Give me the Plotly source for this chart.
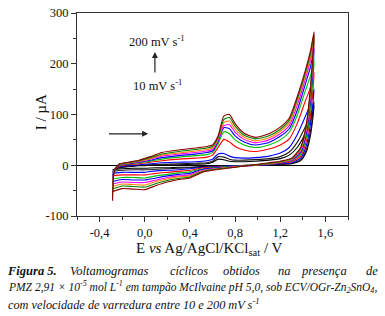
import plotly.graph_objects as go

# Potential grids (V) for the forward (anodic) and reverse (cathodic) sweeps
E_anodic = [-0.285, -0.27, -0.23, -0.15, -0.05, 0.05, 0.15, 0.3, 0.45, 0.55, 0.6, 0.65,
            0.7, 0.75, 0.8, 0.88, 0.98, 1.1, 1.2, 1.28, 1.35, 1.42, 1.47, 1.5]
E_cathodic = [1.47, 1.43, 1.38, 1.3, 1.2, 1.1, 1.0, 0.9, 0.8, 0.7, 0.6, 0.52, 0.47,
              0.4, 0.3, 0.2, 0.1, 0.0, -0.1, -0.2, -0.285]

scan_rates = ["10", "20", "30", "50", "75", "100", "125", "150", "175", "200"]
colors = ["#000000", "#1a1a1a", "#0000ff", "#ff0000", "#00c000",
          "#0000ff", "#ff00ff", "#ff8000", "#008000", "#8b0000"]

# Currents (µA) for each scan rate
I_anodic = [
    [-10, -8, -5, -3, -1, 0, 1, 1, 2, 3, 6, 12, 11, 8, 7, 7, 8, 10, 13, 20, 35, 62, 90, 117],
    [-14, -9, -4, -2, 0, 1, 2, 3, 4, 5, 8, 17, 16, 12, 10, 10, 11, 13, 17, 26, 45, 75, 100, 125],
    [-20, -9, -3, -1, 1, 3, 5, 6, 7, 9, 12, 22, 23, 18, 15, 14, 15, 18, 24, 35, 60, 95, 122, 150],
    [-28, -10, -2, 1, 3, 6, 9, 12, 14, 16, 20, 35, 51, 46, 37, 30, 27, 32, 40, 52, 82, 125, 155, 183],
    [-35, -10, -1, 2, 5, 8, 12, 16, 19, 21, 25, 42, 66, 62, 50, 40, 35, 40, 50, 65, 98, 145, 178, 208],
    [-42, -10, 0, 3, 6, 10, 15, 19, 22, 25, 28, 47, 74, 72, 58, 46, 40, 45, 57, 72, 108, 158, 196, 230],
    [-48, -11, 0, 4, 7, 12, 18, 22, 25, 28, 31, 50, 78, 80, 65, 51, 44, 50, 62, 78, 118, 168, 208, 243],
    [-55, -11, 1, 4, 8, 13, 20, 24, 28, 31, 34, 52, 84, 87, 71, 55, 48, 54, 67, 84, 125, 175, 215, 250],
    [-62, -12, 1, 5, 9, 15, 22, 27, 31, 34, 37, 55, 90, 94, 77, 59, 52, 58, 71, 89, 130, 180, 222, 257],
    [-70, -12, 2, 6, 10, 17, 25, 30, 34, 37, 40, 58, 97, 100, 82, 63, 55, 62, 75, 93, 135, 185, 228, 263],
]
I_cathodic = [
    [62, 26, 9, 3, 2, 1, 0, 0, -1, -1, -2, -2, -3, -4, -4, -5, -5, -6, -6, -7, -9],
    [70, 30, 11, 4, 2, 1, 0, 0, -1, -1, -2, -3, -4, -5, -6, -7, -8, -9, -9, -10, -12],
    [85, 38, 14, 5, 3, 1, 0, -1, -1, -2, -3, -4, -5, -7, -9, -10, -11, -14, -14, -14, -16],
    [105, 47, 18, 7, 4, 2, 0, -1, -2, -3, -4, -5, -7, -10, -12, -14, -16, -19, -19, -19, -21],
    [120, 55, 22, 9, 5, 2, 1, -1, -2, -3, -5, -7, -9, -13, -15, -18, -21, -25, -24, -24, -27],
    [135, 62, 25, 10, 5, 3, 1, -1, -2, -4, -6, -8, -11, -16, -18, -21, -25, -29, -29, -28, -32],
    [145, 68, 28, 11, 6, 3, 1, -1, -3, -5, -7, -10, -13, -19, -21, -24, -29, -34, -34, -33, -37],
    [150, 72, 30, 12, 6, 3, 1, -1, -3, -5, -8, -11, -15, -21, -23, -27, -32, -39, -38, -37, -42],
    [155, 76, 33, 13, 7, 4, 1, -1, -4, -6, -9, -12, -16, -23, -26, -30, -36, -43, -42, -41, -47],
    [160, 80, 35, 14, 8, 5, 2, -1, -4, -7, -10, -13, -18, -25, -28, -33, -40, -48, -47, -46, -52],
]

x_tickvals = [-0.4, 0.0, 0.4, 0.8, 1.2, 1.6]
x_ticktext = ["-0,4", "0,0", "0,4", "0,8", "1,2", "1,6"]
y_tickvals = [-100, 0, 100, 200, 300]
y_ticktext = ["-100", "0", "100", "200", "300"]

caption_line1_words = ["<b>Figura 5.</b>", "Voltamogramas", "cíclicos", "obtidos", "na", "presença", "de"]
caption_line2 = "PMZ 2,91 × 10<sup>-5</sup> mol L<sup>-1</sup> em tampão McIlvaine pH 5,0, sob ECV/OGr-Zn<sub>2</sub>SnO<sub>4</sub>,"
caption_line3 = "com velocidade de varredura entre 10 e 200 mV s<sup>-1</sup>"

FONT = "Liberation Serif"
INK = "#111111"

fig = go.Figure()
for k in range(len(scan_rates)):
    fig.add_trace(go.Scatter(
        x=E_anodic + E_cathodic,
        y=I_anodic[k] + I_cathodic[k],
        mode="lines",
        line=dict(color=colors[k], width=1.1, shape="spline", smoothing=0.6),
        name=scan_rates[k] + " mV/s",
        showlegend=False,
        hoverinfo="skip",
    ))

axis_common = dict(
    showline=True, linecolor="#333333", linewidth=1, mirror=True,
    ticks="outside", ticklen=5, tickwidth=1, tickcolor="#333333",
    showgrid=False, automargin=False,
    tickfont=dict(family=FONT, size=12.5, color=INK),
)

fig.update_xaxes(
    range=[-0.6, 1.8], tickvals=x_tickvals, ticktext=x_ticktext,
    zeroline=False,
    minor=dict(ticks="outside", ticklen=3, dtick=0.2, tick0=0, tickcolor="#333333"),
    **axis_common,
)
fig.update_yaxes(
    range=[-100, 300], tickvals=y_tickvals, ticktext=y_ticktext,
    zeroline=True, zerolinecolor="#000000", zerolinewidth=1,
    minor=dict(ticks="outside", ticklen=3, dtick=50, tick0=0, tickcolor="#333333"),
    **axis_common,
)

# Axis titles
fig.add_annotation(xref="paper", yref="paper", x=0.49, y=-0.163, xanchor="center", yanchor="middle",
                   text="E <i>vs</i> Ag/AgCl/KCl<sub>sat</sub> / V", showarrow=False,
                   font=dict(family=FONT, size=15, color=INK))
fig.add_annotation(xref="paper", yref="paper", x=-0.132, y=0.512, xanchor="center", yanchor="middle",
                   text="I / µA", textangle=-90, showarrow=False,
                   font=dict(family=FONT, size=15, color=INK))

ann_font = dict(family=FONT, size=12.5, color=INK)
fig.add_annotation(x=0.105, y=245, text="200 mV s<sup>-1</sup>", showarrow=False, font=ann_font)
fig.add_annotation(x=0.115, y=158, text="10 mV s<sup>-1</sup>", showarrow=False, font=ann_font)
fig.add_annotation(x=0.09, y=223, ax=0.09, ay=180, xref="x", yref="y", axref="x", ayref="y",
                   text="", showarrow=True, arrowhead=2, arrowsize=1, arrowwidth=1.2, arrowcolor="#222222")
fig.add_annotation(x=0.03, y=62, ax=-0.33, ay=62, xref="x", yref="y", axref="x", ayref="y",
                   text="", showarrow=True, arrowhead=2, arrowsize=1, arrowwidth=1.2, arrowcolor="#222222")

# Caption (justified first line: words placed individually)
line1_x = [-0.2657, -0.0332, 0.3358, 0.5314, 0.7343, 0.8192, 1.118]
line1_anchor = ["left", "left", "left", "left", "left", "left", "right"]
cap1_font = dict(family=FONT, size=12.5, color=INK)
for w, px, anc in zip(caption_line1_words, line1_x, line1_anchor):
    fig.add_annotation(xref="paper", yref="paper", x=px, y=-0.27, xanchor=anc, yanchor="middle",
                       text="<i>" + w + "</i>", showarrow=False, font=cap1_font)
fig.add_annotation(xref="paper", yref="paper", x=-0.262, y=-0.352, xanchor="left", yanchor="middle",
                   text="<i>" + caption_line2 + "</i>", showarrow=False,
                   font=dict(family=FONT, size=11.5, color=INK))
fig.add_annotation(xref="paper", yref="paper", x=-0.262, y=-0.432, xanchor="left", yanchor="middle",
                   text="<i>" + caption_line3 + "</i>", showarrow=False,
                   font=dict(family=FONT, size=12.3, color=INK))

fig.update_layout(
    width=385, height=316,
    margin=dict(l=77, r=37, t=13, b=100),
    paper_bgcolor="white", plot_bgcolor="white",
    font=dict(family=FONT),
)

fig.write_html("out.html", config={"displayModeBar": False},
               post_script="document.body.style.margin='0';")
